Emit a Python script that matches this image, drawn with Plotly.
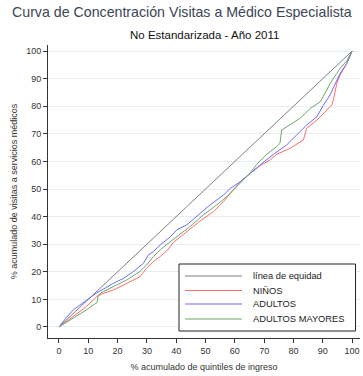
import plotly.graph_objects as go

# ---- data ----
equity_x = [0, 100]
equity_y = [0, 100]

ninos_x = [0, 4.9, 9.4, 11.7, 12.9, 15.1, 18.5, 22, 25.4, 27.6, 29.9, 32.2, 34.5, 37, 39,
           43.6, 48.1, 52.7, 56.1, 58.4, 61.8, 65.2, 68.7, 72, 74.3, 78.8, 83.4, 84.5, 88,
           91.4, 93.1, 93.7, 94.8, 95.9, 98.2, 100]
ninos_y = [0, 3.7, 7.4, 9.8, 11.0, 12.2, 13.4, 15.2, 17.0, 18.2, 21.3, 23.7, 25.5, 27.8, 30.6,
           34.6, 38.4, 41.8, 45.4, 48.4, 52.6, 55.7, 58.5, 60.5, 62.6, 64.7, 67.8, 72.0, 75.0,
           78.6, 80.5, 82.8, 88.3, 91.3, 95.5, 100]

adultos_x = [0, 2.5, 4.9, 7.2, 10.6, 12.9, 15.1, 18.5, 22, 25.4, 28.8, 30.5, 32.2, 34.5, 37.9,
             40.2, 43.6, 47, 51.5, 56.1, 58.4, 61.8, 65.2, 68.5, 73.2, 77.7, 81.1, 84.5, 88,
             90.2, 92.5, 94.8, 95.9, 98.2, 100]
adultos_y = [0, 3.4, 6.2, 8.0, 10.4, 12.4, 13.7, 15.8, 17.6, 20.1, 23.1, 26.1, 27.3, 29.7, 32.6,
             35.2, 37.0, 40.0, 44.2, 47.8, 50.2, 52.6, 55.7, 58.6, 62.6, 66.0, 69.6, 73.2, 76.2,
             80.4, 84.1, 89.5, 91.9, 95.5, 100]

mayores_x = [0, 4.9, 9.4, 11.7, 13.0, 13.4, 15.1, 18.5, 23.1, 27.6, 29.9, 32.2, 34.5, 37.5,
             40.2, 44.7, 49.2, 53.8, 57.2, 61.8, 65.2, 67.5, 70.9, 74.3, 75.4, 76, 78.8, 82.2,
             85.7, 89.1, 91.4, 92.5, 94.8, 95.9, 98.2, 100]
mayores_y = [0, 3.1, 6.2, 8.0, 8.8, 11.6, 12.8, 14.6, 17.0, 20.1, 22.5, 25.5, 27.9, 30.5,
             32.7, 36.4, 40.6, 44.2, 47.2, 52.0, 55.7, 59.0, 62.6, 65.4, 66.6, 71.4, 73.2, 75.6,
             79.2, 81.6, 85.9, 88.3, 91.9, 93.7, 96.5, 100]

tick_vals = [0, 10, 20, 30, 40, 50, 60, 70, 80, 90, 100]
tick_text = [str(v) for v in tick_vals]

series_names = ["línea de equidad", "NIÑOS", "ADULTOS", "ADULTOS MAYORES"]
series_colors = ["#808080", "#ff6a6a", "#6a6aff", "#6aa86a"]

title = "Curva de Concentración Visitas a Médico Especialista"
subtitle = "No Estandarizada - Año 2011"
x_title = "% acumulado de quintiles de ingreso"
y_title = "% acumulado de visitas a servicios médicos"

# ---- layout geometry ----
W, H = 363, 376
ML, MR, MT, MB = 48, 3, 45, 38
PW, PH = W - ML - MR, H - MT - MB


def px(x):
    return (x - ML) / PW


def py(y):
    return (H - MB - y) / PH


FONT = "Liberation Sans, Arial, sans-serif"

fig = go.Figure()
data = [(equity_x, equity_y), (ninos_x, ninos_y), (adultos_x, adultos_y), (mayores_x, mayores_y)]
for (xs, ys), name, col in zip(data, series_names, series_colors):
    fig.add_trace(go.Scatter(x=xs, y=ys, mode="lines", name=name,
                             line=dict(color=col, width=1), showlegend=False))

axis_common = dict(ticks="outside", ticklen=4, tickcolor="#333", tickwidth=1,
                   showline=True, linecolor="#333", linewidth=1, zeroline=False,
                   tickvals=tick_vals, ticktext=tick_text,
                   tickfont=dict(family=FONT, size=9, color="#333"))

fig.update_xaxes(range=[-3.75, 102.7], showgrid=False, **axis_common,
                 title=dict(text=x_title, font=dict(family=FONT, size=9, color="#333"), standoff=8))
fig.update_yaxes(range=[-4.0, 102.2], showgrid=True, gridcolor="#e6eef4", gridwidth=1,
                 **axis_common,
                 title=dict(text=y_title, font=dict(family=FONT, size=9, color="#333"), standoff=7))

annotations = [
    dict(text=title, x=px(182), y=py(12), xref="paper", yref="paper", showarrow=False,
         xanchor="center", yanchor="middle", font=dict(family=FONT, size=14.2, color="#3a4556")),
    dict(text=subtitle, x=px(204), y=py(35), xref="paper", yref="paper", showarrow=False,
         xanchor="center", yanchor="middle", font=dict(family=FONT, size=11.5, color="#111")),
]
shapes = [
    dict(type="rect", xref="paper", yref="paper", x0=px(179), x1=px(355.5), y0=py(331), y1=py(264),
         line=dict(color="#222", width=1), fillcolor="white", layer="above"),
]
row_y = [276, 290.5, 304, 319]
for name, col, ry in zip(series_names, series_colors, row_y):
    shapes.append(dict(type="line", xref="paper", yref="paper", x0=px(185), x1=px(242),
                       y0=py(ry), y1=py(ry), line=dict(color=col, width=1), layer="above"))
    annotations.append(dict(text=name, x=px(250.5), y=py(ry), xref="paper", yref="paper",
                            showarrow=False, xanchor="left", yanchor="middle",
                            font=dict(family=FONT, size=9.3, color="#222")))

fig.update_layout(width=W, height=H, margin=dict(l=ML, r=MR, t=MT, b=MB),
                  paper_bgcolor="white", plot_bgcolor="white",
                  annotations=annotations, shapes=shapes, showlegend=False)

fig.write_html("out.html")
